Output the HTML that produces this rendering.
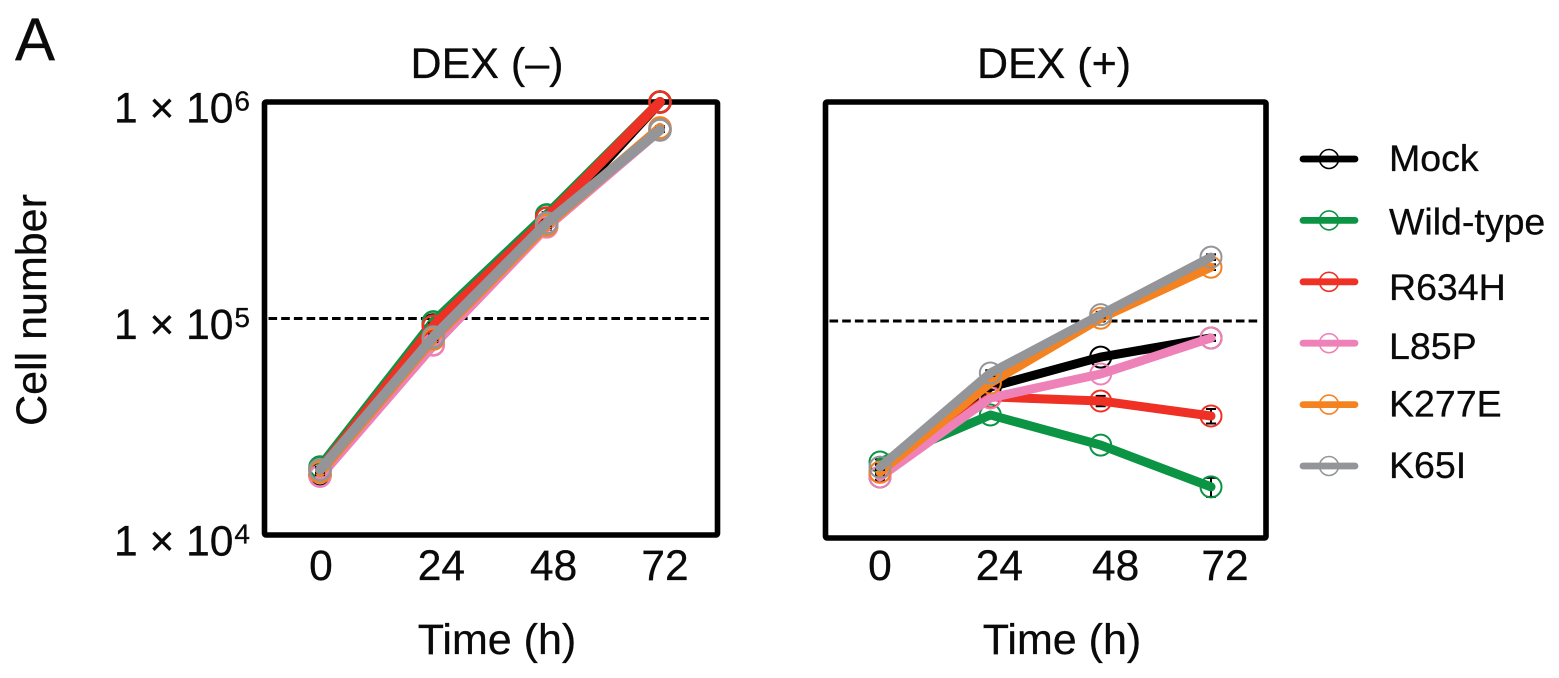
<!DOCTYPE html>
<html lang="en">
<head>
<meta charset="utf-8">
<title>Cell number over time, DEX (–) and DEX (+)</title>
<style>
  html, body { margin: 0; padding: 0; background: #fff; }
  body { width: 1559px; height: 678px; overflow: hidden; }
  svg { display: block; }
  text { font-family: "Liberation Sans", Arial, sans-serif; fill: #0a0a0a; stroke: #0a0a0a; stroke-width: 0.3px; }
</style>
</head>
<body>
<svg id="figure" width="1559" height="678" viewBox="0 0 1559 678" xmlns="http://www.w3.org/2000/svg">
  <text x="15" y="60" font-size="60">A</text>
  <text transform="translate(46,310) rotate(-90)" text-anchor="middle" font-size="43">Cell number</text>
  <text x="487" y="78" text-anchor="middle" font-size="43">DEX (–)</text>
  <text x="1054" y="78" text-anchor="middle" font-size="43">DEX (+)</text>
  <text x="497" y="654" text-anchor="middle" font-size="43">Time (h)</text>
  <text x="1062" y="654" text-anchor="middle" font-size="43">Time (h)</text>
  <g id="left-panel"></g>
  <g id="right-panel"></g>
  <g id="legend"></g>
</svg>
<script>
// Shared categories and ticks
const timePoints = [0, 24, 48, 72];
const yTickValues = [10000, 100000, 1000000];
const referenceLevel = [100000];
const seriesNames = ['Mock', 'Wild-type', 'R634H', 'L85P', 'K277E', 'K65I'];
const seriesColors = ['#000000', '#0a9444', '#ee3124', '#ee82b8', '#f58220', '#939598'];

// DEX (-) cell counts
const leftMock = [18900, 93300, 270000, 1000000];
const leftWildType = [20600, 96400, 301000, 1000000];
const leftR634H = [20000, 92300, 291000, 1000000];
const leftL85P = [18700, 75500, 265000, 743000];
const leftK277E = [19500, 80400, 270000, 759000];
const leftK65I = [20000, 82100, 276000, 743000];

// DEX (+) cell counts
const rightMock = [19100, 49600, 68200, 83500];
const rightWildType = [22400, 36900, 26800, 17200];
const rightR634H = [20100, 44700, 42800, 36500];
const rightL85P = [19100, 44200, 57000, 83500];
const rightK277E = [20100, 51800, 103000, 177000];
const rightK65I = [21200, 57600, 107000, 197000];

// Relative error (fraction of value)
const leftError = [0.03, 0.03, 0.03, 0.02];
const rightErrMock = [0.04, 0.02, 0.02, 0.03];
const rightErrWildType = [0.03, 0.02, 0.02, 0.10];
const rightErrR634H = [0.03, 0.02, 0.055, 0.077];
const rightErrL85P = [0.03, 0.02, 0.02, 0.03];
const rightErrK277E = [0.03, 0.03, 0.03, 0.03];
const rightErrK65I = [0.03, 0.03, 0.03, 0.03];

const NS = 'http://www.w3.org/2000/svg';
function make(tag, attrs, parent, text) {
  const el = document.createElementNS(NS, tag);
  for (const k in attrs) el.setAttribute(k, attrs[k]);
  if (text !== undefined) el.textContent = text;
  parent.appendChild(el);
  return el;
}

function drawPanel(rootId, box, series, errors, labelNudge, showY) {
  const root = document.getElementById(rootId);
  const x = t => box.x0 + (t / 72) * box.xSpan;
  const y = v => box.bottom - (Math.log10(v) - 4) * box.decade;

  const frame = make('rect', {x: box.left, y: box.top, width: box.right - box.left, height: box.bottom - box.top, rx: 1.5, fill: 'none', stroke: '#000', 'stroke-width': 5.6, 'stroke-linejoin': 'round'}, root);
  
  

  referenceLevel.forEach(v => {
    const dash = make('line', {x1: box.left + 4, x2: box.right - 6, y1: y(v), y2: y(v), stroke: '#000', 'stroke-width': 3, 'stroke-dasharray': '8.6 4.1'}, root);
    
    
  });

  timePoints.forEach((t, i) => {
    const label = make('text', {x: x(t) + labelNudge[i], y: 580, 'text-anchor': 'middle', 'font-size': 42.5}, root, String(t));
    
    
  });

  if (showY) {
    yTickValues.forEach(v => {
      const label = make('text', {x: 114, y: y(v) + 20.5, 'font-size': 42.5}, root, '1 × 10');
      
      
      make('tspan', {dx: 1, dy: -12, 'font-size': 28}, label, String(Math.round(Math.log10(v))));
    });
  }

  series.forEach((values, s) => {
    const color = seriesColors[s];
    const g = make('g', {}, root);
    
    

    values.forEach((v, i) => {
      const e = errors[s][i];
      const px = x(timePoints[i]);
      const hi = y(v * (1 + e));
      const lo = y(v * (1 - e));
      const bar = make('path', {d: 'M' + px + ' ' + hi + 'V' + lo + 'M' + (px - 5) + ' ' + hi + 'h10M' + (px - 5) + ' ' + lo + 'h10', fill: 'none', stroke: '#000', 'stroke-width': 2}, g);
      
      
    });

    const pts = values.map((v, i) => x(timePoints[i]) + ',' + y(v)).join(' ');
    const line = make('polyline', {points: pts, fill: 'none', stroke: color, 'stroke-width': box.lineWidth, 'stroke-linejoin': 'round', 'stroke-linecap': 'round'}, g);
    
    

    values.forEach((v, i) => {
      const dot = make('circle', {cx: x(timePoints[i]), cy: y(v), r: 10.5, fill: 'none', stroke: color, 'stroke-width': box.ringWidth}, g);
      
      
    });
  });
}

drawPanel('left-panel',
  {left: 264.5, right: 717.5, top: 102, bottom: 535, x0: 320, xSpan: 340, decade: 216.5, lineWidth: 10, ringWidth: 2.6},
  [leftMock, leftWildType, leftR634H, leftL85P, leftK277E, leftK65I],
  [leftError, leftError, leftError, leftError, leftError, leftError],
  [1, 8, 7, 5], true);

drawPanel('right-panel',
  {left: 825.5, right: 1266, top: 102, bottom: 538, x0: 880, xSpan: 331, decade: 217, lineWidth: 9, ringWidth: 2},
  [rightMock, rightWildType, rightR634H, rightL85P, rightK277E, rightK65I],
  [rightErrMock, rightErrWildType, rightErrR634H, rightErrL85P, rightErrK277E, rightErrK65I],
  [0, 9, 15, 14], false);

const legendLabelDrop = [12, 14, 18, 16, 12, 12];
const legendRoot = document.getElementById('legend');
seriesNames.forEach((name, i) => {
  const cy = 159 + i * 61.4;
  const entry = make('g', {}, legendRoot);
  
  
  make('line', {x1: 1303, x2: 1355, y1: cy, y2: cy, stroke: seriesColors[i], 'stroke-width': 6.8, 'stroke-linecap': 'round'}, entry);
  make('circle', {cx: 1329, cy: cy, r: 9.5, fill: 'none', stroke: seriesColors[i], 'stroke-width': 1.6}, entry);
  make('text', {x: 1389, y: cy + legendLabelDrop[i], 'font-size': 37.5}, entry, name);
});
</script>
</body>
</html>
